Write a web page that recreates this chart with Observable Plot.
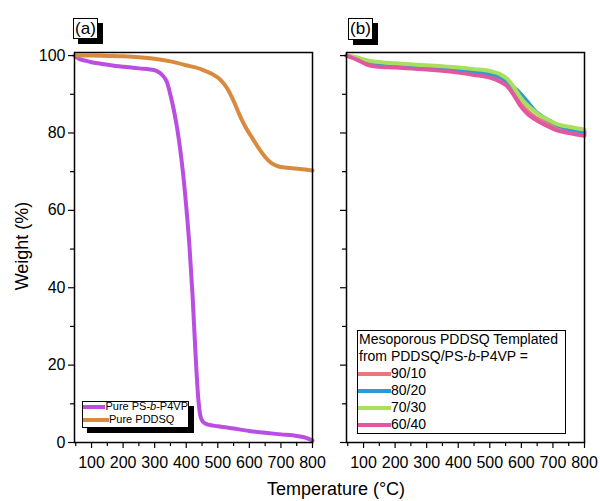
<!DOCTYPE html>
<html>
<head>
<meta charset="utf-8">
<script src="https://cdn.jsdelivr.net/npm/d3@7"></script>
<script src="https://cdn.jsdelivr.net/npm/@observablehq/plot@0.6"></script>
<style>
  body { margin: 0; background: white; }
  #chart { position: relative; width: 600px; height: 501px; background: white; font-family: "Liberation Sans", Arial, sans-serif; color: black; overflow: hidden; }
  #chart svg { position: absolute; top: 0; }
  .plabel { position: absolute; border: 1px solid black; background: white; box-shadow: 5px 5px 0 black; font-size: 17px; line-height: 19px; text-align: center; }
  .legend { position: absolute; border: 1px solid black; background: white; }
  .row { display: flex; align-items: center; white-space: nowrap; }
  .sw { display: inline-block; height: 4px; }
  .axlabel { position: absolute; font-size: 18px; white-space: nowrap; }
</style>
</head>
<body>
<div id="chart"></div>
<script>
// ---------- data ----------
const xTicks = [100, 200, 300, 400, 500, 600, 700, 800];
const xMinorTicks = [50, 150, 250, 350, 450, 550, 650, 750];
const yTicks = [0, 20, 40, 60, 80, 100];
const yMinorTicks = [10, 30, 50, 70, 90];

// Panel (a)
const namesA = ["Pure PS-b-P4VP", "Pure PDDSQ"];
const colorsA = ["#BA4EE0", "#D98A3E"];
const tempPS = [46, 60, 80, 100, 130, 160, 200, 250, 300, 315, 330, 340, 350, 360, 370, 380, 390, 400, 410, 420, 430, 438, 446, 455, 470, 500, 550, 600, 650, 700, 750, 780, 800];
const wPS    = [100, 99.2, 98.7, 98.3, 97.9, 97.5, 97.1, 96.7, 96.2, 95.6, 94.4, 92.9, 89.8, 86.2, 81.8, 76.3, 69.5, 61, 51, 38, 22, 11.5, 6.5, 5.2, 4.6, 4.2, 3.6, 3.0, 2.5, 2.1, 1.7, 1.2, 0.5];
const tempDDSQ = [46, 100, 150, 200, 250, 300, 350, 400, 450, 480, 510, 530, 550, 570, 590, 610, 630, 650, 670, 690, 720, 760, 800];
const wDDSQ    = [100, 100, 99.9, 99.8, 99.6, 99.2, 98.5, 97.5, 96.4, 95.3, 93.6, 91.5, 88.3, 84.5, 81.2, 78.6, 76.0, 73.8, 72.2, 71.4, 71.0, 70.7, 70.3];

// Panel (b)
const namesB = ["90/10", "80/20", "70/30", "60/40"];
const colorsB = ["#E8787A", "#2A9BD6", "#A8E05E", "#E0589F"];
const tempB = [46, 80, 110, 140, 200, 300, 400, 450, 500, 530, 555, 575, 597, 620, 640, 660, 690, 713, 750, 800];
const w9010 = [100, 99.1, 98.1, 97.6, 97.2, 96.7, 96.0, 95.4, 94.8, 93.9, 92.6, 90.4, 87.6, 85.6, 84.3, 83.3, 82.1, 81.3, 80.6, 79.8];
const w8020 = [100, 99.3, 98.5, 98.0, 97.6, 97.1, 96.4, 95.9, 95.3, 94.6, 93.4, 91.9, 90.2, 88.0, 86.0, 84.6, 83.1, 82.1, 81.1, 80.3];
const w7030 = [100, 99.5, 98.8, 98.4, 98.0, 97.5, 96.9, 96.5, 96.0, 95.3, 94.0, 92.0, 89.2, 87.1, 85.7, 84.5, 83.2, 82.3, 81.6, 80.9];
const w6040 = [100, 98.9, 97.7, 97.2, 96.9, 96.4, 95.6, 95.0, 94.3, 93.4, 92.1, 89.9, 87.0, 84.9, 83.7, 82.7, 81.5, 80.7, 80.0, 79.3];

// ---------- tables ----------
const tableA = [
  ...tempPS.map((t, i) => ({name: namesA[0], T: t, W: wPS[i]})),
  ...tempDDSQ.map((t, i) => ({name: namesA[1], T: t, W: wDDSQ[i]}))
];
const seriesB = [w9010, w8020, w7030, w6040];
const tableB = seriesB.flatMap((ws, k) => tempB.map((t, i) => ({name: namesB[k], T: t, W: ws[i]})));

const font = "'Liberation Sans', Arial, sans-serif";

function panel(data, names, colors, opts) {
  return Plot.plot({
    width: opts.width, height: 475,
    marginLeft: opts.ml, marginRight: opts.mr, marginTop: 52, marginBottom: 33,
    style: {fontFamily: font, fontSize: "16px", background: "transparent", overflow: "visible", color: "black"},
    x: {domain: [46, 800]},
    y: {domain: [0, 100.8]},
    color: {domain: names, range: colors},
    marks: [
      Plot.line(data, {x: "T", y: "W", z: "name", stroke: "name", strokeWidth: 4, curve: "monotone-x"}),
      Plot.axisX({ticks: xTicks, tickSize: 6, tickPadding: 8, label: null, stroke: "black", strokeWidth: 1.2}),
      Plot.axisX({ticks: xMinorTicks.filter(v => v > 46), tickSize: 4, tickFormat: () => "", label: null, strokeWidth: 1.2}),
      Plot.axisY({ticks: yTicks, tickSize: 6, tickPadding: 3, label: null, tickFormat: opts.ylabels ? d => d : () => "", strokeWidth: 1.2}),
      Plot.axisY({ticks: yMinorTicks, tickSize: 4, tickFormat: () => "", label: null, strokeWidth: 1.2}),
      Plot.frame({stroke: "black", strokeWidth: 1.5})
    ]
  });
}

const chart = document.getElementById("chart");
const svgA = panel(tableA, namesA, colorsA, {width: 330, ml: 74, mr: 18, ylabels: true});
svgA.style.left = "0px";
chart.appendChild(svgA);
const svgB = panel(tableB, namesB, colorsB, {width: 300, ml: 46, mr: 16, ylabels: false});
svgB.style.left = "300px";
chart.appendChild(svgB);

function el(tag, cls, css, html) {
  const e = document.createElement(tag);
  if (cls) e.className = cls;
  Object.assign(e.style, css || {});
  if (html != null) e.innerHTML = html;
  chart.appendChild(e);
  return e;
}

// panel labels
el("div", "plabel", {left: "73px", top: "18px", width: "23px", height: "19px"}, "(a)");
el("div", "plabel", {left: "348px", top: "18px", width: "23px", height: "20px"}, "(b)");

// axis titles
el("div", "axlabel", {left: "22px", top: "246px", transform: "translate(-50%,-50%) rotate(-90deg)"}, "Weight (%)");
el("div", "axlabel", {left: "336px", top: "489px", transform: "translate(-50%,-50%)"}, "Temperature (°C)");

// legend (a)
const legA = el("div", "legend", {left: "82px", top: "401px", width: "105px", height: "25px", boxShadow: "5px 5px 0 black", fontSize: "11px", lineHeight: "13px"});
const labelsA = ["Pure PS-<i>b</i>-P4VP", "Pure PDDSQ"];
namesA.forEach((n, i) => {
  const r = document.createElement("div");
  r.className = "row";
  r.style.height = "13px";
  r.style.marginTop = i === 0 ? "-2px" : "0px";
  r.innerHTML = `<span class="sw" style="width:26px;background:${colorsA[i]}"></span><span>${labelsA[i]}</span>`;
  legA.appendChild(r);
});

// legend (b)
const legB = el("div", "legend", {left: "357px", top: "330px", width: "207px", height: "102px", fontSize: "14px", lineHeight: "17px", paddingLeft: "0px"});
const hdr = document.createElement("div");
hdr.style.paddingLeft = "1px";
hdr.innerHTML = "Mesoporous PDDSQ Templated<br>from PDDSQ/PS-<i>b</i>-P4VP =";
legB.appendChild(hdr);
namesB.forEach((n, i) => {
  const r = document.createElement("div");
  r.className = "row";
  r.style.height = "17px";
  r.innerHTML = `<span class="sw" style="width:33px;background:${colorsB[i]}"></span><span>${n}</span>`;
  legB.appendChild(r);
});
</script>
</body>
</html>
